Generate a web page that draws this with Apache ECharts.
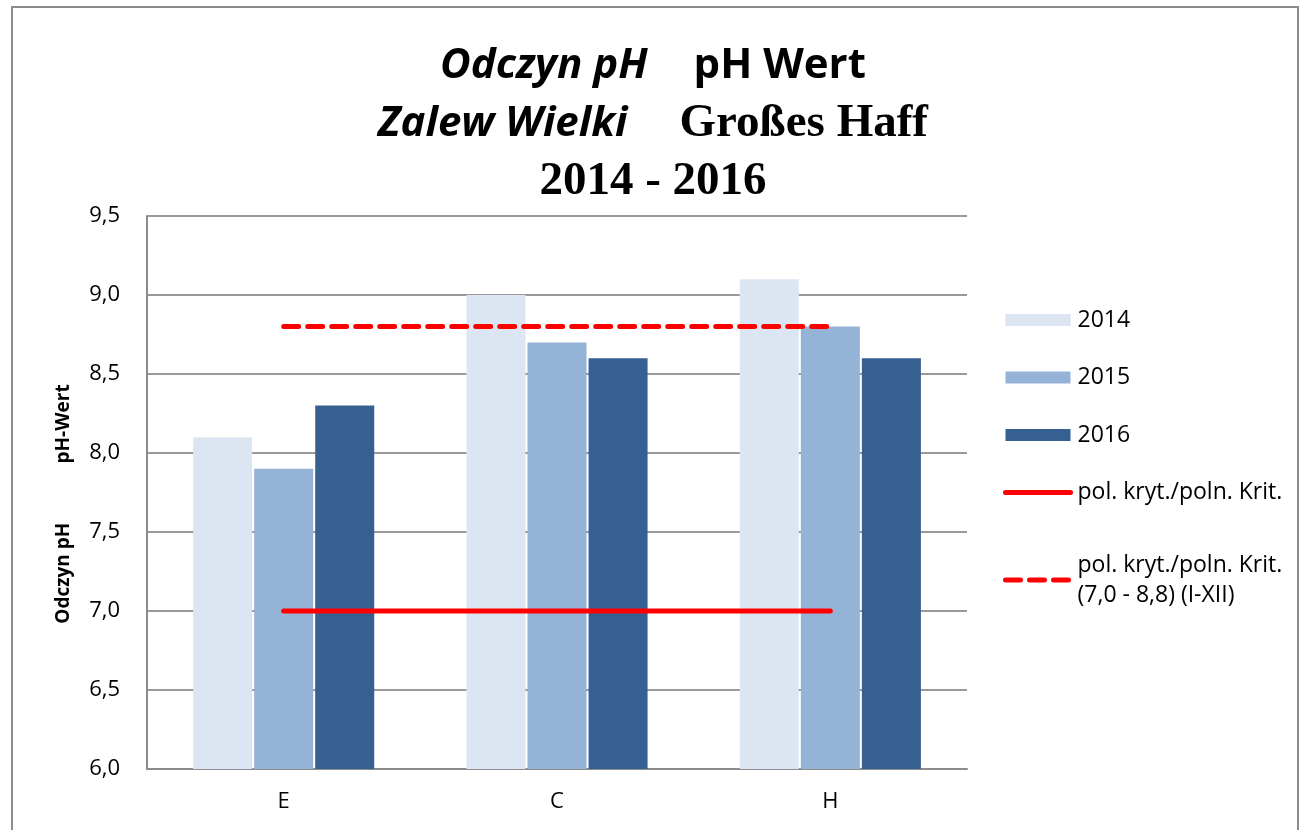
<!DOCTYPE html>
<html>
<head>
<meta charset="utf-8" />
<title>Odczyn pH</title>
<script src="https://cdn.jsdelivr.net/npm/echarts@6/dist/echarts.min.js"></script>
<style>
  html, body { margin: 0; padding: 0; background: #fff; }
</style>
</head>
<body>
<div id="main" style="width: 1306px;height:830px;"></div>
<script type="text/javascript">
// dane
var stations = ['E', 'C', 'H'];
var ph2014 = [8.1, 9.0, 9.1];
var ph2015 = [7.9, 8.7, 8.8];
var ph2016 = [8.3, 8.6, 8.6];
var critLow = [7.0, 7.0, 7.0];
var critHigh = [8.8, 8.8, 8.8];
var yTicks = [6.0, 6.5, 7.0, 7.5, 8.0, 8.5, 9.0, 9.5];

var colors = ['#dce6f2', '#95b3d7', '#376092', '#ff0000'];
var font = '"Open Sans", "Liberation Sans", sans-serif';
var serif = '"Liberation Serif", "DejaVu Serif", serif';

var myChart = echarts.init(document.getElementById('main'));

function barSeries(name, data, color) {
  return {
    name: name,
    type: 'bar',
    data: data,
    barWidth: '21.6%',
    barGap: '3.4%',
    itemStyle: { color: color },
    z: 2
  };
}

var critName = 'pol. kryt./poln. Krit.';
var critName2 = 'pol. kryt./poln. Krit.\n(7,0 - 8,8) (I-XII)';
var yName = 'Odczyn pH' + new Array(13).join(' ') + 'pH-Wert';

var option = {
  backgroundColor: '#fff',
  animation: false,
  title: {
    left: 'center',
    top: 32,
    padding: [5, 5, 5, 15],
    text: '{it|Odczyn pH}{sp|}{b|pH Wert}\n{it|Zalew Wielki}{sp2|}{serif|Großes Haff}\n{serif|2014 - 2016}',
    textStyle: {
      rich: {
        it: { fontFamily: font, fontStyle: 'italic', fontWeight: 'bold', fontSize: 42, lineHeight: 58, color: '#000' },
        b: { fontFamily: font, fontWeight: 'bold', fontSize: 42, lineHeight: 58, color: '#000' },
        sp: { width: 46 },
        sp2: { width: 52 },
        serif: { fontFamily: serif, fontWeight: 'bold', fontSize: 47, lineHeight: 58, color: '#000' }
      }
    }
  },
  graphic: [{
    type: 'rect',
    shape: { x: 12, y: 7, width: 1286, height: 840 },
    style: { fill: 'none', stroke: '#8c8c8c', lineWidth: 2 },
    silent: true
  }],
  legend: {
    orient: 'vertical',
    left: 1003,
    top: 305,
    padding: 0,
    itemWidth: 65,
    itemHeight: 12,
    itemGap: 27.5,
    textStyle: { fontFamily: font, fontSize: 23, lineHeight: 30, color: '#000', padding: [0, 0, 0, 2] },
    data: [
      { name: '2014', icon: 'rect' },
      { name: '2015', icon: 'rect' },
      { name: '2016', icon: 'rect' },
      { name: critName, itemStyle: { opacity: 0 }, lineStyle: { width: 5, cap: 'round' } },
      { name: critName2, itemStyle: { opacity: 0 }, lineStyle: { width: 5, cap: 'round', type: [15, 9] },
        textStyle: { padding: [30, 0, 0, 2] } }
    ]
  },
  grid: {
    left: 147,
    right: 339,
    top: 216,
    bottom: 61,
    containLabel: false
  },
  xAxis: {
    type: 'category',
    data: stations,
    axisLine: { lineStyle: { color: '#8c8c8c', width: 2 } },
    axisTick: { show: false },
    axisLabel: { fontFamily: font, fontSize: 22, color: '#000', margin: 22 }
  },
  yAxis: {
    type: 'value',
    min: yTicks[0],
    max: yTicks[yTicks.length - 1],
    interval: 0.5,
    name: yName,
    nameLocation: 'middle',
    nameGap: 74,
    nameTextStyle: {
      fontFamily: font,
      fontWeight: 'bold',
      fontSize: 19,
      color: '#000',
      padding: [0, 23, 0, 0]
    },
    axisLine: { show: true, lineStyle: { color: '#8c8c8c', width: 2 } },
    axisTick: { show: false },
    splitLine: { lineStyle: { color: '#9a9a9a', width: 2 } },
    axisLabel: {
      fontFamily: font, fontSize: 22, color: '#000', margin: 27,
      formatter: function (v) { return v.toFixed(1).replace('.', ','); }
    }
  },
  series: [
    barSeries('2014', ph2014, colors[0]),
    barSeries('2015', ph2015, colors[1]),
    barSeries('2016', ph2016, colors[2]),
    {
      name: critName,
      type: 'line',
      data: critLow,
      symbol: 'none',
      lineStyle: { color: colors[3], width: 5, cap: 'round' },
      itemStyle: { color: colors[3] },
      z: 5
    },
    {
      name: critName2,
      type: 'line',
      data: critHigh,
      symbol: 'none',
      lineStyle: { color: colors[3], width: 5, type: [15, 9], cap: 'round' },
      itemStyle: { color: colors[3] },
      z: 5
    }
  ]
};

myChart.setOption(option);
</script>
</body>
</html>
